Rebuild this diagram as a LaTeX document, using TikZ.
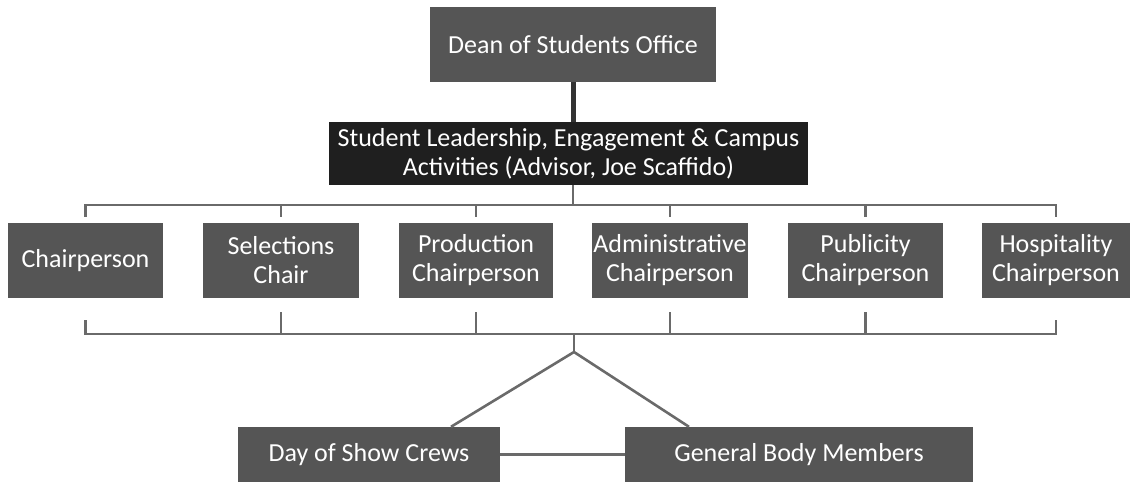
\documentclass[tikz,border=0pt]{standalone}
\usepackage{fontspec}
\setmainfont{Carlito}
\definecolor{boxgray}{HTML}{555555}
\definecolor{darkbox}{HTML}{1F1F1F}
\definecolor{linegray}{HTML}{6A6A6A}
\begin{document}
\begin{tikzpicture}[x=1pt,y=-1pt,
  box/.style={fill=boxgray, text=white, inner sep=0pt, align=center,
    font=\fontsize{26}{29}\selectfont},
  conn/.style={draw=linegray, line width=2.6pt},
  strong/.style={draw=black!80, line width=5pt}]
\useasboundingbox (0,0) rectangle (1130,483);
% top
\node[box, minimum width=286pt, minimum height=75pt] (dean) at (573,44.5) {Dean of Students Office};
\node[box, fill=darkbox, minimum width=479pt, minimum height=63pt] (sla) at (568.5,153.5)
  {Student Leadership, Engagement \& Campus\\Activities (Advisor, Joe Scaffido)};
% chairs
\node[box, minimum width=155pt, minimum height=75pt] (c1) at (85.5,260.5) {Chairperson};
\node[box, minimum width=156pt, minimum height=75pt] (c2) at (281,260.5) {Selections\\Chair};
\node[box, minimum width=154pt, minimum height=75pt] (c3) at (476,260.5) {Production\\Chairperson};
\node[box, minimum width=156pt, minimum height=75pt] (c4) at (670,260.5) {Administrative\\Chairperson};
\node[box, minimum width=155pt, minimum height=75pt] (c5) at (865.5,260.5) {Publicity\\Chairperson};
\node[box, minimum width=148pt, minimum height=75pt] (c6) at (1056,260.5) {Hospitality\\Chairperson};
% bottom
\node[box, minimum width=262pt, minimum height=55pt] (dsc) at (369,454.5) {Day of Show Crews};
\node[box, minimum width=348pt, minimum height=55pt] (gbm) at (799,454.5) {General Body Members};
% coordinates
\coordinate (bus) at (573,205);
\coordinate (lbus) at (574,334);
\coordinate (split) at (574,352);
% connectors
\draw[strong] (dean.south -| bus) -- (sla.north -| bus);
\draw[conn] (sla.south -| bus) -- (bus);
\draw[conn, shorten <=6pt, shorten >=6pt] (c1.north) -- (c1.north |- bus) -- (c6.north |- bus) -- (c6.north);
\foreach \c in {c2,c3,c4,c5} \draw[conn, shorten <=6pt] (\c.north) -- (\c.north |- bus);
\draw[conn, shorten <=22pt, shorten >=22pt] (c1.south) -- (c1.south |- lbus) -- (c6.south |- lbus) -- (c6.south);
\foreach \c in {c2,c3,c4,c5} \draw[conn, shorten <=14pt] (\c.south) -- (\c.south |- lbus);
\draw[conn] (lbus) -- (split);
\draw[conn] (split) -- ([xshift=82pt]dsc.north);
\draw[conn] (split) -- ([xshift=-110pt]gbm.north);
\draw[conn] (dsc.east) -- (gbm.west);
\end{tikzpicture}
\end{document}
